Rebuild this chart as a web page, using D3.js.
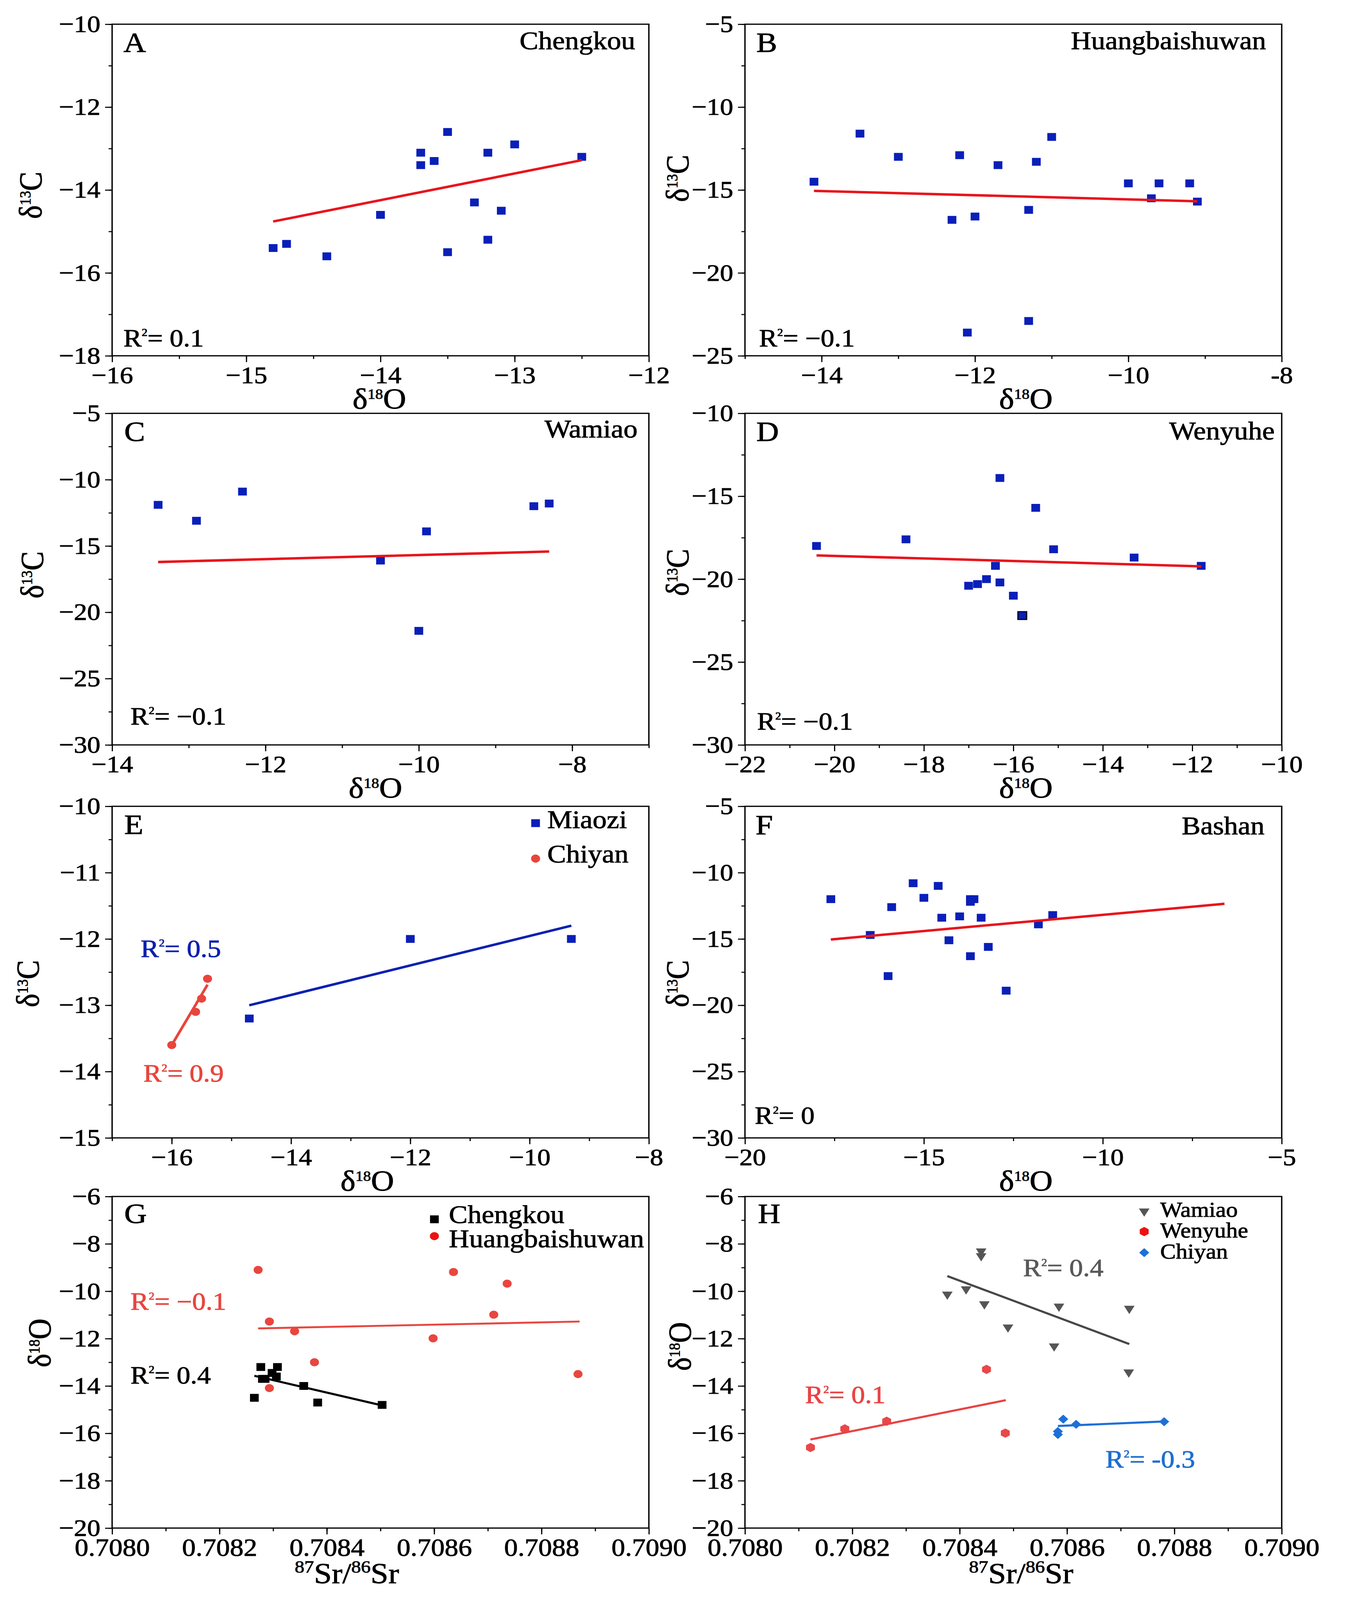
<!DOCTYPE html>
<html>
<head>
<meta charset="utf-8">
<script src="https://cdn.jsdelivr.net/npm/d3@7"></script>
<style>
  html, body { margin: 0; padding: 0; background: #fff; overflow: hidden; }
  svg { display: block; }
  text { font-family: "Liberation Serif", "Times New Roman", serif; }
</style>
</head>
<body>
<div id="chart"></div>
<script>
// ---- data ----
// A  Chengkou
var aX = [-14.8, -14.7, -14.4, -14.0, -13.7, -13.7, -13.6, -13.5, -13.5, -13.3, -13.2, -13.2, -13.1, -13.0, -12.5];
var aY = [-15.4, -15.3, -15.6, -14.6, -13.1, -13.4, -13.3, -12.6, -15.5, -14.3, -13.1, -15.2, -14.5, -12.9, -13.2];
var aFit = [[-14.8, -14.76], [-12.5, -13.28]];

// B  Huangbaishuwan
var bX = [-14.1, -13.5, -13.0, -12.3, -12.2, -12.1, -12.0, -11.7, -11.3, -11.3, -11.2, -11.0, -10.0, -9.7, -9.6, -9.2, -9.1];
var bY = [-14.5, -11.6, -13.0, -16.8, -12.9, -23.6, -16.6, -13.5, -16.2, -22.9, -13.3, -11.8, -14.6, -15.5, -14.6, -14.6, -15.7];
var bFit = [[-14.1, -15.05], [-9.1, -15.68]];

// C  Wamiao
var cX = [-13.4, -12.9, -12.3, -10.5, -10.0, -9.9, -8.5, -8.3];
var cY = [-11.9, -13.1, -10.9, -16.1, -21.4, -13.9, -12.0, -11.8];
var cFit = [[-13.4, -16.21], [-8.3, -15.42]];

// D  Wenyuhe
var dX = [-20.4, -18.4, -17.0, -16.8, -16.6, -16.4, -16.3, -16.3, -16.0, -15.8, -15.5, -15.1, -13.3, -11.8];
var dY = [-18.0, -17.6, -20.4, -20.3, -20.0, -19.2, -13.9, -20.2, -21.0, -22.2, -15.7, -18.2, -18.7, -19.2];
var dFit = [[-20.4, -18.57], [-11.8, -19.23]];

// E  Miaozi / Chiyan
var eMiaoziX = [-14.7, -12.0, -9.3];
var eMiaoziY = [-13.2, -12.0, -12.0];
var eMiaoziFit = [[-14.7, -13.0], [-9.3, -11.8]];
var eChiyanX = [-16.0, -15.6, -15.5, -15.4];
var eChiyanY = [-13.6, -13.1, -12.9, -12.6];
var eChiyanFit = [[-16.0, -13.6], [-15.4, -12.69]];

// F  Bashan
var fX = [-17.6, -16.5, -16.0, -15.9, -15.3, -15.0, -14.6, -14.5, -14.3, -14.0, -13.7, -13.7, -13.6, -13.7, -13.4, -13.2, -12.7, -11.8, -11.4];
var fY = [-12.0, -14.7, -17.8, -12.6, -10.8, -11.9, -11.0, -13.4, -15.1, -13.3, -12.0, -12.2, -12.0, -16.3, -13.4, -15.6, -18.9, -13.9, -13.2];
var fFit = [[-17.6, -15.04], [-6.6, -12.35]];

// G  87Sr/86Sr vs d18O
var gChengkouX = [0.708265, 0.708277, 0.708280, 0.708285, 0.708298, 0.708306, 0.708308, 0.708357, 0.708383, 0.708503];
var gChengkouY = [-14.5, -13.2, -13.7, -13.7, -13.45, -13.6, -13.2, -14.0, -14.7, -14.8];
var gChengkouFit = [[0.708265, -13.57], [0.708503, -14.82]];
var gHuangX = [0.708272, 0.708293, 0.708293, 0.708340, 0.708377, 0.708598, 0.708636, 0.708711, 0.708736, 0.708868];
var gHuangY = [-9.1, -11.28, -14.09, -11.69, -13.0, -11.99, -9.19, -10.99, -9.68, -13.5];
var gHuangFit = [[0.708272, -11.57], [0.708871, -11.28]];

// H
var hWamiaoX = [0.708377, 0.708412, 0.708440, 0.708440, 0.708446, 0.708490, 0.708576, 0.708585, 0.708715, 0.708716];
var hWamiaoY = [-10.13, -9.91, -8.31, -8.51, -10.54, -11.52, -12.32, -10.64, -13.42, -10.73];
var hWamiaoFit = [[0.708377, -9.36], [0.708716, -12.23]];
var hWenyuheX = [0.708122, 0.708186, 0.708264, 0.708450, 0.708485];
var hWenyuheY = [-16.6, -15.81, -15.49, -13.3, -15.99];
var hWenyuheFit = [[0.708122, -16.26], [0.708486, -14.6]];
var hChiyanX = [0.708583, 0.708583, 0.708593, 0.708617, 0.708781];
var hChiyanY = [-15.92, -16.05, -15.4, -15.62, -15.51];
var hChiyanFit = [[0.708583, -15.69], [0.708781, -15.5]];

// tick labels
var ticksA_x = [-16, -15, -14, -13, -12], ticksA_y = [-18, -16, -14, -12, -10];
var ticksB_x = [-14, -12, -10, -8], ticksB_y = [-25, -20, -15, -10, -5];
var ticksC_x = [-14, -12, -10, -8], ticksC_y = [-30, -25, -20, -15, -10, -5];
var ticksD_x = [-22, -20, -18, -16, -14, -12, -10], ticksD_y = [-30, -25, -20, -15, -10];
var ticksE_x = [-16, -14, -12, -10, -8], ticksE_y = [-15, -14, -13, -12, -11, -10];
var ticksF_x = [-20, -15, -10, -5], ticksF_y = [-30, -25, -20, -15, -10, -5];
var ticksSr_x = [0.7080, 0.7082, 0.7084, 0.7086, 0.7088, 0.7090];
var ticksSr_y = [-20, -18, -16, -14, -12, -10, -8, -6];

// ---- layout ----
var width = 3443, height = 4560;
var colX = [287, 1907], rowY = [69, 1178, 2298, 3410];
var pw = 1374, ph = 945;

var BLUE = '#0a1fb8', RED = '#e8141c';

var hexagon = {
  draw: function (ctx, size) {
    var r = Math.sqrt(size / (1.5 * Math.sqrt(3)));
    for (var i = 0; i < 6; i++) {
      var a = Math.PI / 3 * i + Math.PI / 6;
      if (i) ctx.lineTo(r * Math.cos(a), r * Math.sin(a));
      else ctx.moveTo(r * Math.cos(a), r * Math.sin(a));
    }
    ctx.closePath();
  }
};

var marks = {
  square:   { type: d3.symbolSquare,   size: 500, rot: '' },
  circle:   { type: d3.symbolCircle,   size: 420, rot: '' },
  triangle: { type: d3.symbolTriangle, size: 320, rot: ' rotate(180)' },
  hexagon:  { type: hexagon,           size: 450, rot: '' },
  diamond:  { type: d3.symbolDiamond2, size: 420, rot: '' }
};

var d18O = ['δ', '^18', 'O'], d13C = ['δ', '^13', 'C'], srLab = ['^87', 'Sr/', '^86', 'Sr'];

var panels = [
  { id: 'A', col: 0, row: 0, xd: [-16, -12], yd: [-18, -10], xt: ticksA_x, yt: ticksA_y, xm: 0.5, ym: 1,
    series: [{ x: aX, y: aY, fit: aFit, mark: 'square', color: BLUE, line: RED }],
    site: { text: 'Chengkou', dx: -35, dy: 71 },
    r2: [{ t: '= 0.1', c: '#000', dx: 29, dy: 918 }],
    xlab: d18O, ylab: d13C, xo: -3, yo: 15, yb: -181, letter: [29, 79] },
  { id: 'B', col: 1, row: 0, xd: [-15, -8], yd: [-25, -5], xt: ticksB_x, yt: ticksB_y, xm: 1, ym: 2.5,
    hyphen: [-8],
    series: [{ x: bX, y: bY, fit: bFit, mark: 'square', color: BLUE, line: RED }],
    site: { text: 'Huangbaishuwan', dx: -40, dy: 71 },
    r2: [{ t: '= −0.1', c: '#000', dx: 36, dy: 918 }],
    xlab: d18O, ylab: d13C, xo: 32, yo: -33, yb: -145, letter: [29, 79] },
  { id: 'C', col: 0, row: 1, xd: [-14, -7], yd: [-30, -5], xt: ticksC_x, yt: ticksC_y, xm: 1, ym: 2.5,
    series: [{ x: cX, y: cY, fit: cFit, mark: 'square', color: BLUE, line: RED }],
    site: { text: 'Wamiao', dx: -29, dy: 69 },
    r2: [{ t: '= −0.1', c: '#000', dx: 47, dy: 887 }],
    xlab: d18O, ylab: d13C, xo: -13, yo: -12, yb: -177, letter: [31, 79] },
  { id: 'D', col: 1, row: 1, xd: [-22, -10], yd: [-30, -10], xt: ticksD_x, yt: ticksD_y, xm: 1, ym: 2.5,
    series: [{ x: dX, y: dY, fit: dFit, mark: 'square', color: BLUE, line: RED, outline: [9] }],
    site: { text: 'Wenyuhe', dx: -18, dy: 75 },
    r2: [{ t: '= −0.1', c: '#000', dx: 31, dy: 902 }],
    xlab: d18O, ylab: d13C, xo: 32, yo: -19, yb: -145, letter: [29, 79] },
  { id: 'E', col: 0, row: 2, xd: [-17, -8], yd: [-15, -10], xt: ticksE_x, yt: ticksE_y, xm: 1, ym: 0.5,
    series: [
      { x: eMiaoziX, y: eMiaoziY, fit: eMiaoziFit, mark: 'square', color: BLUE, line: '#0a20b0' },
      { x: eChiyanX, y: eChiyanY, fit: eChiyanFit, mark: 'circle', color: '#e8453c', line: '#e8453c' }
    ],
    legend: { size: 72, x: 1084, tx: 1114, items: [
      { text: 'Miaozi', mark: 'square', color: BLUE, my: 48, ty: 62 },
      { text: 'Chiyan', mark: 'circle', color: '#e8453c', my: 149, ty: 160 } ] },
    r2: [{ t: '= 0.5', c: '#0a20b0', dx: 73, dy: 429 }, { t: '= 0.9', c: '#e8453c', dx: 80, dy: 785 }],
    xlab: d18O, ylab: d13C, xo: -34, yo: 33, yb: -188, letter: [31, 79] },
  { id: 'F', col: 1, row: 2, xd: [-20, -5], yd: [-30, -5], xt: ticksF_x, yt: ticksF_y, xm: 2.5, ym: 2.5,
    series: [{ x: fX, y: fY, fit: fFit, mark: 'square', color: BLUE, line: RED }],
    site: { text: 'Bashan', dx: -44, dy: 80 },
    r2: [{ t: '= 0', c: '#000', dx: 25, dy: 905 }],
    xlab: d18O, ylab: d13C, xo: 32, yo: 33, yb: -145, letter: [27, 80] },
  { id: 'G', col: 0, row: 3, xd: [0.708, 0.709], yd: [-20, -6], xt: ticksSr_x, yt: ticksSr_y, xm: 0.0001, ym: 1, sr: true,
    series: [
      { x: gHuangX, y: gHuangY, fit: gHuangFit, mark: 'circle', color: '#e8463f', line: '#e8463f', lw: 5.5 },
      { x: gChengkouX, y: gChengkouY, fit: gChengkouFit, mark: 'square', color: '#000', line: '#000', lw: 6 }
    ],
    legend: { size: 72, x: 825, tx: 862, items: [
      { text: 'Chengkou', mark: 'square', color: '#000', my: 65, ty: 76 },
      { text: 'Huangbaishuwan', mark: 'circle', color: '#ee1111', my: 113, ty: 145 } ] },
    r2: [{ t: '= −0.1', c: '#e8463f', dx: 47, dy: 323 }, { t: '= 0.4', c: '#000', dx: 47, dy: 533 }],
    xlab: srLab, ylab: d18O, xo: -86, yo: -55, yb: -158, letter: [31, 76] },
  { id: 'H', col: 1, row: 3, xd: [0.708, 0.709], yd: [-20, -6], xt: ticksSr_x, yt: ticksSr_y, xm: 0.0001, ym: 1, sr: true,
    series: [
      { x: hWamiaoX, y: hWamiaoY, fit: hWamiaoFit, mark: 'triangle', color: '#555555', line: '#474747', lw: 6 },
      { x: hWenyuheX, y: hWenyuheY, fit: hWenyuheFit, mark: 'hexagon', color: '#e84848', line: '#e84444', lw: 6 },
      { x: hChiyanX, y: hChiyanY, fit: hChiyanFit, mark: 'diamond', color: '#1e70d6', line: '#1e70d6', lw: 6 }
    ],
    legend: { size: 60, x: 1022, tx: 1063, items: [
      { text: 'Wamiao', mark: 'triangle', color: '#555555', my: 42, ty: 58 },
      { text: 'Wenyuhe', mark: 'hexagon', color: '#ee1111', my: 100, ty: 117 },
      { text: 'Chiyan', mark: 'diamond', color: '#1e70d6', my: 160, ty: 177 } ] },
    r2: [{ t: '= 0.4', c: '#595959', dx: 712, dy: 227 }, { t: '= 0.1', c: '#e84444', dx: 154, dy: 589 },
         { t: '= -0.3', c: '#1e6fd0', dx: 923, dy: 773 }],
    xlab: srLab, ylab: d18O, xo: 20, yo: -45, yb: -139, letter: [33, 76] }
];

// the figure is laid out at 3443 x 4560 and stretched onto whatever the window shows
var vw = window.innerWidth || width, vh = window.innerHeight || height;
var svg = d3.select('#chart')
    .append('svg')
    .attr('width', vw)
    .attr('height', vh)
    .attr('viewBox', '0 0 ' + width + ' ' + height)
    .attr('preserveAspectRatio', 'none')
    .style('background', '#fff');

svg.append('rect').attr('width', width).attr('height', height).attr('fill', '#fff');

// text with superscripts; parts starting with ^ are raised
function rich(sel, parts, size, supScale, supRaise) {
  var shift = 0;
  parts.forEach(function (p) {
    var sup = p.charAt(0) === '^';
    var target = sup ? -supRaise * size : 0;
    sel.append('tspan')
      .attr('font-size', sup ? size * supScale : size)
      .attr('dy', target - shift)
      .text(sup ? p.slice(1) : p);
    shift = target;
  });
  return sel;
}

// slightly heavier glyphs, like the printed figure
function ink(sel, color) {
  return sel.attr('fill', color).attr('stroke', color).attr('stroke-width', 1.2);
}

function symbolPath(name) {
  return d3.symbol().type(marks[name].type).size(marks[name].size)();
}

panels.forEach(function (p) {
  var g = svg.append('g')
    .attr('transform', 'translate(' + colX[p.col] + ',' + rowY[p.row] + ')');

  var x = d3.scaleLinear().domain(p.xd).range([0, pw]);
  var y = d3.scaleLinear().domain(p.yd).range([ph, 0]);

  var fmtY = d3.format('d');
  var fmt = p.sr ? d3.format('.4f') : d3.format('d');
  var fmtX = function (d) {
    if (p.hyphen && p.hyphen.indexOf(d) >= 0) return String(d);
    return fmt(d);
  };
  var tickFont = 68;
  var xTickFont = p.sr ? 70 : 68;

  var xMinor = d3.range(p.xd[0], p.xd[1] + p.xm / 2, p.xm);
  var yMinor = d3.range(p.yd[0], p.yd[1] + p.ym / 2, p.ym);

  var axes = g.append('g');
  axes.append('g').attr('transform', 'translate(0,' + ph + ')')
    .call(d3.axisBottom(x).tickValues(xMinor).tickSize(9).tickSizeOuter(0).tickFormat(''));
  var xAxis = axes.append('g').attr('transform', 'translate(0,' + ph + ')')
    .call(d3.axisBottom(x).tickValues(p.xt).tickSize(18).tickSizeOuter(0).tickPadding(12).tickFormat(fmtX));
  axes.append('g')
    .call(d3.axisLeft(y).tickValues(yMinor).tickSize(9).tickSizeOuter(0).tickFormat(''));
  axes.append('g')
    .call(d3.axisLeft(y).tickValues(p.yt).tickSize(18).tickSizeOuter(0).tickPadding(12).tickFormat(fmtY));

  axes.selectAll('.domain').remove();
  axes.selectAll('.tick line').attr('stroke', '#000').attr('stroke-width', 3);
  ink(axes.selectAll('.tick text'), '#000')
    .style('font-family', '"Liberation Serif", "Times New Roman", serif')
    .style('font-size', tickFont + 'px');
  xAxis.selectAll('.tick text').style('font-size', xTickFont + 'px');

  // frame
  g.append('rect')
    .attr('width', pw).attr('height', ph)
    .attr('fill', 'none').attr('stroke', '#000').attr('stroke-width', 3.5);

  // points then fit lines
  p.series.forEach(function (s) {
    var m = marks[s.mark];
    g.append('g').selectAll('path')
      .data(d3.zip(s.x, s.y))
      .enter()
      .append('path')
      .attr('transform', function (d) { return 'translate(' + x(d[0]) + ',' + y(d[1]) + ')' + m.rot; })
      .attr('d', symbolPath(s.mark))
      .attr('fill', s.color)
      .attr('stroke', function (d, i) { return s.outline && s.outline.indexOf(i) >= 0 ? '#000' : 'none'; })
      .attr('stroke-width', 3);
  });
  p.series.forEach(function (s) {
    g.append('line')
      .attr('x1', x(s.fit[0][0])).attr('y1', y(s.fit[0][1]))
      .attr('x2', x(s.fit[1][0])).attr('y2', y(s.fit[1][1]))
      .attr('stroke', s.line)
      .attr('stroke-width', s.lw || 7);
  });

  // panel letter
  ink(g.append('text'), '#000')
    .attr('x', p.letter[0]).attr('y', p.letter[1])
    .style('font-size', '80px')
    .text(p.id);

  // site name
  if (p.site) {
    ink(g.append('text'), '#000')
      .attr('x', pw + p.site.dx).attr('y', p.site.dy)
      .attr('text-anchor', 'end')
      .style('font-size', '72px')
      .text(p.site.text);
  }

  // legend
  if (p.legend) {
    p.legend.items.forEach(function (it) {
      var m = marks[it.mark];
      g.append('path')
        .attr('transform', 'translate(' + p.legend.x + ',' + it.my + ')' + m.rot)
        .attr('d', symbolPath(it.mark))
        .attr('fill', it.color);
      ink(g.append('text'), '#000')
        .attr('x', p.legend.tx).attr('y', it.ty)
        .style('font-size', p.legend.size + 'px')
        .text(it.text);
    });
  }

  // R^2 labels
  p.r2.forEach(function (r) {
    var t = ink(g.append('text'), r.c)
      .attr('x', r.dx).attr('y', r.dy);
    rich(t, ['R', '^2', r.t], 70, 0.42, 0.42);
  });

  // axis titles
  var xt = ink(g.append('text'), '#000')
    .attr('x', pw / 2 + p.xo)
    .attr('y', ph + (p.sr ? 157 : 150))
    .attr('text-anchor', 'middle');
  if (p.sr) rich(xt, p.xlab, 82, 0.6, 0.36);
  else rich(xt, p.xlab, 82, 0.48, 0.34);

  var cy = ph / 2 + p.yo;
  var yt = ink(g.append('text'), '#000')
    .attr('x', p.yb).attr('y', cy)
    .attr('transform', 'rotate(-90,' + p.yb + ',' + cy + ')')
    .attr('text-anchor', 'middle');
  rich(yt, p.ylab, 82, 0.5, 0.34);
});
</script>
</body>
</html>
